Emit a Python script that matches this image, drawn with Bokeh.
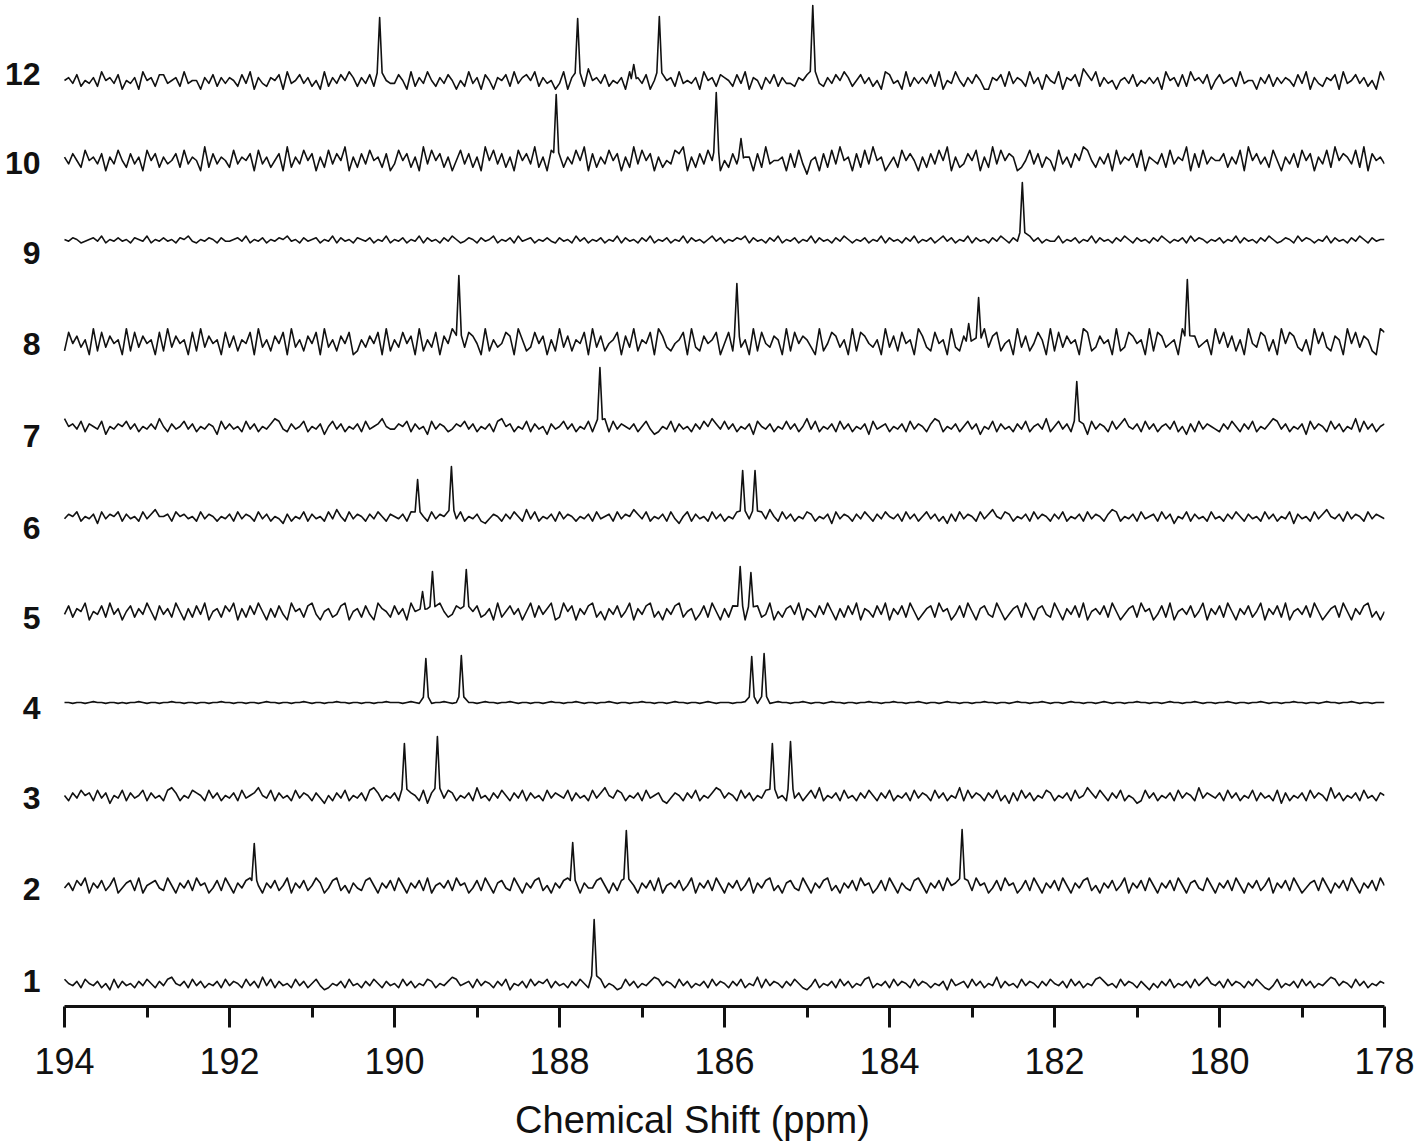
from bokeh.plotting import figure
from bokeh.models import Range1d, FixedTicker
from bokeh.embed import file_html
from bokeh.resources import INLINE
from bokeh.core.properties import value

# ---------------- data ----------------
PPM_START, PPM_END = 194.0, 178.0
TICKS = [194, 192, 190, 188, 186, 184, 182, 180, 178]
MINOR_TICKS = [193, 191, 189, 187, 185, 183, 181, 179]
TICK_LABELS = {t: str(t) for t in TICKS}

SAMPLES = ["12", "10", "9", "8", "7", "6", "5", "4", "3", "2", "1"]

# peak lists: (chemical shift ppm, intensity)
PEAKS_12 = [(190.18, 63), (187.78, 62), (187.10, 16), (186.79, 64), (184.93, 75)]
PEAKS_10 = [(188.04, 66), (186.10, 68), (185.80, 22)]
PEAKS_9 = [(182.39, 57)]
PEAKS_8 = [(189.22, 68), (185.85, 60), (183.04, 20), (182.92, 46), (180.39, 64)]
PEAKS_7 = [(187.51, 59), (181.73, 45)]
PEAKS_6 = [(189.72, 37), (189.31, 50), (185.78, 46), (185.63, 46)]
PEAKS_5 = [(189.66, 20), (189.54, 40), (189.13, 42), (185.81, 45), (185.68, 39)]
PEAKS_4 = [(189.62, 44), (189.19, 47), (185.67, 46), (185.52, 49)]
PEAKS_3 = [(189.88, 52), (189.48, 59), (185.42, 52), (185.20, 54)]
PEAKS_2 = [(191.70, 42), (187.84, 43), (187.19, 55), (183.12, 56)]
PEAKS_1 = [(187.58, 64)]

# baseline noise of each spectrum, read as levels 0-9 (5 = baseline), left to right
NOISE_12 = ("5647354638564725462856377456384552647364"
            "6537482643657284574635283647586364738254"
            "4752836485364752538462752657384675836452"
            "4826573956473546285647257456384546285637"
            "6537482652647364436572843647586357463528"
            "7452836464738254853647522657384653846275"
            "4826573975836452564735464628563738564725"
            "74563845526473646537482643657284574635285")
NOISE_10 = ("6475385647264853746285736457384652937465"
            "3846572846357293648572638475926374856372"
            "4857362948573625847362958473628574936285"
            "7364859273648572639485726354879263748562"
            "5374866273945562738415627384956273849562"
            "4638575263748592634758263948576235847365"
            "2846375985364728465738265473846592738465"
            "57364829574638526473857264839576483927564")
NOISE_9 = ("5465345647354645365473546453657435465364"
           "4564735463546574536456354736453654635473"
           "5463547364536475346536457354637456354643"
           "6453746354635473645364735463547364535746"
           "3546573645364735463547364536475354635473"
           "6453647354635746354736453647536453746354"
           "4735463547364536475364536475354637465354"
           "63547364536475346537465354736453647536455")
NOISE_8 = ("3857462938475629384756283947562839475628"
           "4736582946375829463758294637582364758293"
           "6485729364827593648752936458729634857263"
           "9473658294735682749365829743568294375682"
           "5837462938547629385764293587462938754629"
           "4738562974385629437856294783562947358629"
           "3847562983475629348756293874562938745629"
           "58473629548736295874362958437629584763298")
NOISE_7 = ("8564736547254657463546485364574635465274"
           "6453746354687436457354625746354637456854"
           "4657364527465346574635463785635473645264"
           "5746354736483746546357423547364536475864"
           "7463546275463547463584735463746354627456"
           "3546374653687354635746254736453647356483"
           "5746354627465374685463746356473526374654"
           "36475364735468746354627465374635483746356")
NOISE_6 = ("4657354627465736453746855637564537465354"
           "6374653746354263547364537485374653647536"
           "5463746537465364735463246536475384735463"
           "7465354637456374658647354637425736453746"
           "3547364537485374635476354627465364753647"
           "5463746357463526374653746854763546374653"
           "6473546374653687354637456374625473645374"
           "53647536453746354726453746854637465374654")
NOISE_5 = ("4736582547384625736485274638526374825637"
           "5826374852637428563784256347825637428653"
           "7462853764285347628573462835746258374682"
           "3857264783526473582647835264783562473852"
           "6374825673482536748265374852637482653748"
           "2647385246738562473852674385246738526743"
           "8526473825647385246738562473825647358264"
           "73852647358264738256473852467385264783525")
NOISE_4 = ("5545545655455454556545545565545545545565"
           "5455455456554554556545545565545545545565"
           "5545654554556545545545655455654554554565"
           "5455654554556545545565545545655455456545"
           "5545565545545655455654554565545545565545"
           "5655455654554565545545565545545655455654"
           "5545655455456545545565545545655455654554"
           "55654554556545545565545545655455654554555")
NOISE_3 = ("5364756374625473645736453786354765374635"
           "4637456854736453746536425364735463786354"
           "6374653726354763546384536475364736453746"
           "5473645374685476354637456324653647354687"
           "4653746354726453746357483546374536475364"
           "7354637465374635483746536473526374635476"
           "3546374586475364735423746354637465384654"
           "63746354736453726354637465384635463745365")
NOISE_2 = ("4637582647358246738256743852647385624738"
           "5264783526473582647358624783526437852647"
           "3852647382564738562473852674385264783526"
           "4783526447852637485264738256473582647385"
           "2647358264783526743852647835264738562473"
           "8526437852647385624738562473856247385264"
           "7385264783526473582647385264738526743852"
           "64738526473582647385246738526473852647385")
NOISE_1 = ("7546375463527364536475364785463746354637"
           "4653746384736453746357423546374536475364"
           "5374635476354687456374653647254637465736"
           "4536475364735423746354687465374635463746"
           "5364735483746536475324735463746354783546"
           "3746537465354627456374635483645374653647"
           "5463746354786453746536425364735463746854"
           "63746536475324735463746354687465374635465")

NOISE = [NOISE_12, NOISE_10, NOISE_9, NOISE_8, NOISE_7, NOISE_6,
         NOISE_5, NOISE_4, NOISE_3, NOISE_2, NOISE_1]
PEAKS = [PEAKS_12, PEAKS_10, PEAKS_9, PEAKS_8, PEAKS_7, PEAKS_6,
         PEAKS_5, PEAKS_4, PEAKS_3, PEAKS_2, PEAKS_1]

# ---------------- layout / style ----------------
NOISE_SCALE = [2.9, 3.4, 1.7, 3.7, 2.6, 2.3, 2.8, 0.9, 2.6, 2.5, 2.1]
BASELINES = [926, 846, 767, 663, 580, 490, 395, 304, 211, 121, 23]
LABEL_Y = [933, 844, 754, 663, 571, 479, 389, 299, 209, 118, 26]
LABEL_X = 194.29
HALF_WIDTH = 0.03
FONT = "Liberation Sans"
INK = "#111111"


def spectrum(noise, scale, peaks, base):
    n = len(noise)
    step = (PPM_START - PPM_END) / (n - 1)
    pts = []
    for i, c in enumerate(noise):
        x = PPM_START - i * step
        if all(abs(x - pp) > HALF_WIDTH + 0.012 for pp, _ in peaks):
            pts.append((x, (int(c) - 5) * scale))
    for pp, h in peaks:
        pts += [(pp + HALF_WIDTH, 0.12 * h), (pp, h), (pp - HALF_WIDTH, 0.12 * h)]
    pts.sort(key=lambda t: -t[0])
    return [t[0] for t in pts], [base + t[1] for t in pts]


xs, ys = [], []
for nz, sc, pk, b in zip(NOISE, NOISE_SCALE, PEAKS, BASELINES):
    x, y = spectrum(nz, sc, pk, b)
    xs.append(x)
    ys.append(y)

FIG_W, FIG_H = 1418, 1143
FRAME_W, FRAME_H = 1384, 1006
x_start = PPM_END + (PPM_START - PPM_END) * FRAME_W / 1320.0

p = figure(width=FIG_W, height=FIG_H,
           x_range=Range1d(x_start, PPM_END), y_range=Range1d(0, FRAME_H),
           output_backend="svg", toolbar_location=None,
           min_border_left=0, min_border_right=FIG_W - FRAME_W,
           min_border_top=0, min_border_bottom=FIG_H - FRAME_H,
           y_axis_location=None)
p.outline_line_color = None
p.grid.visible = False
p.background_fill_color = "white"
p.border_fill_color = "white"

p.multi_line(xs=xs, ys=ys, line_color=INK, line_width=1.6, line_join="round")

p.text(x=[LABEL_X] * len(SAMPLES), y=LABEL_Y, text=SAMPLES,
       text_font=value(FONT), text_font_style="bold",
       text_font_size="32px", text_align="right", text_baseline="middle",
       text_color=INK)

ax = p.xaxis[0]
ax.ticker = FixedTicker(ticks=TICKS, minor_ticks=MINOR_TICKS)
ax.major_label_overrides = TICK_LABELS
ax.bounds = (PPM_END, PPM_START)
ax.axis_line_width = 3
ax.axis_line_color = INK
ax.major_tick_line_width = 3
ax.major_tick_line_color = INK
ax.major_tick_out = 21
ax.major_tick_in = 0
ax.minor_tick_line_width = 3
ax.minor_tick_line_color = INK
ax.minor_tick_out = 11
ax.minor_tick_in = 0
ax.major_label_text_font = FONT
ax.major_label_text_font_size = "36px"
ax.major_label_text_color = INK
ax.major_label_standoff = 20
ax.axis_label = "Chemical Shift (ppm)"
ax.axis_label_text_font = FONT
ax.axis_label_text_font_size = "38px"
ax.axis_label_text_font_style = "normal"
ax.axis_label_text_color = INK
ax.axis_label_standoff = 22

open("out.html", "w").write(file_html(p, INLINE))
